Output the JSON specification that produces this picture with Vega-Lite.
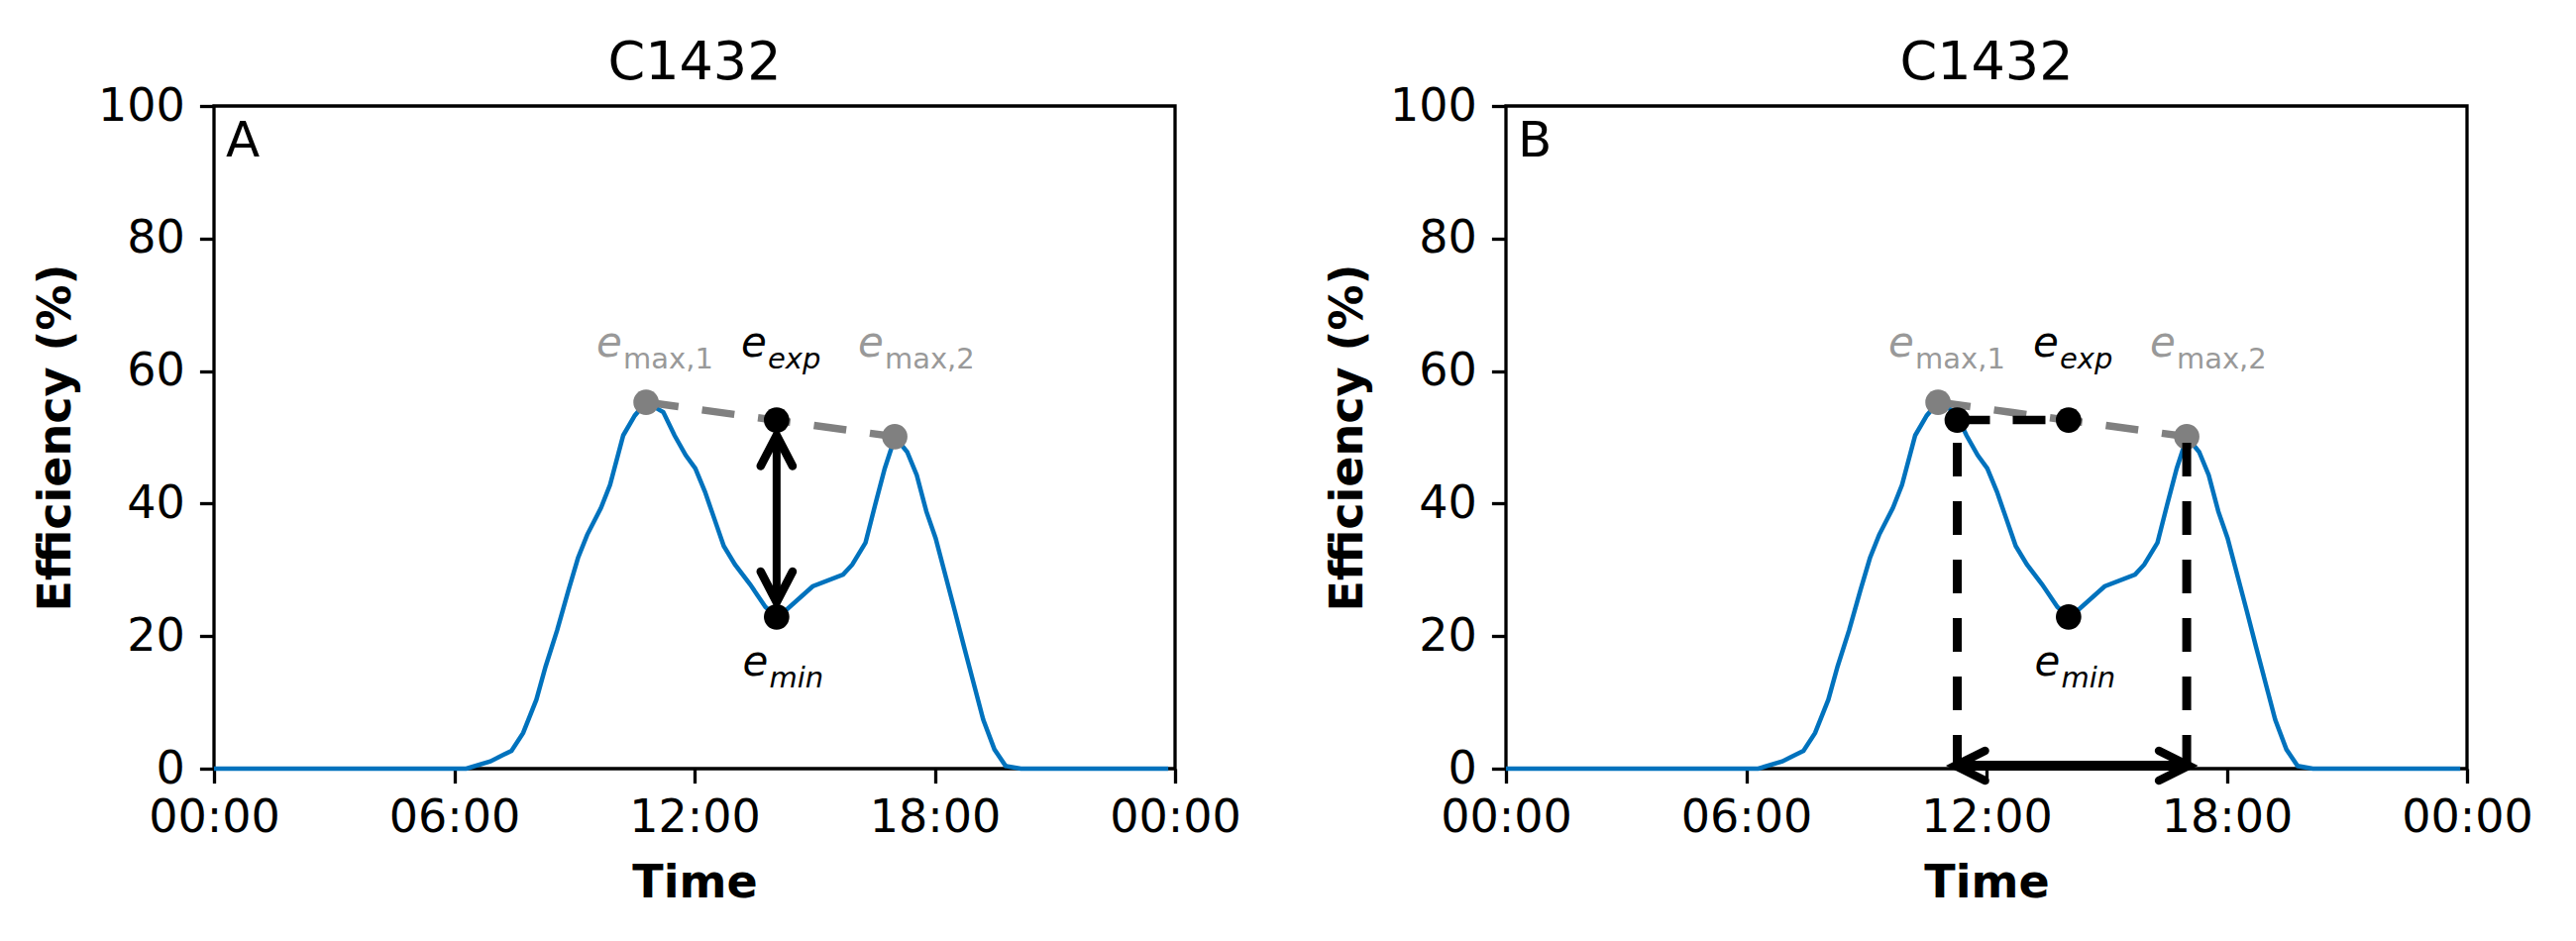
{
  "$schema": "https://vega.github.io/schema/vega-lite/v6.json",
  "background": "white",
  "padding": {"left": 31, "top": 35, "right": 10, "bottom": 10},
  "spacing": 334,
  "bounds": "flush",
  "config": {
    "font": "DejaVu Sans",
    "view": {"stroke": "black", "strokeWidth": 3.3},
    "axis": {
      "domain": false, "grid": false, "ticks": true, "tickSize": 14.6, "tickWidth": 3.3, "tickColor": "black",
      "labelFont": "DejaVu Sans", "labelFontSize": 46, "labelColor": "black", "labelFlush": false, "labelOverlap": false,
      "titleFont": "DejaVu Sans", "titleFontSize": 46, "titleFontWeight": "bold", "titleColor": "black"
    },
    "axisX": {"labelPadding": 13, "titlePadding": 21},
    "axisY": {"labelPadding": 15, "titlePadding": 18},
    "title": {"font": "DejaVu Sans", "fontSize": 54, "fontWeight": "normal", "color": "black", "baseline": "alphabetic", "offset": -7, "frame": "group"}
  },
  "datasets": {
    "curve": [
      {"time": 0, "eff": 0}, {"time": 1, "eff": 0}, {"time": 2, "eff": 0}, {"time": 3, "eff": 0},
      {"time": 4, "eff": 0}, {"time": 5, "eff": 0}, {"time": 6, "eff": 0}, {"time": 6.3, "eff": 0},
      {"time": 6.9, "eff": 1.1}, {"time": 7.43, "eff": 2.7}, {"time": 7.72, "eff": 5.4}, {"time": 8.05, "eff": 10.4},
      {"time": 8.28, "eff": 15.4}, {"time": 8.57, "eff": 20.9}, {"time": 8.85, "eff": 26.9}, {"time": 9.09, "eff": 31.8},
      {"time": 9.32, "eff": 35.3}, {"time": 9.66, "eff": 39.3}, {"time": 9.89, "eff": 42.8}, {"time": 10.22, "eff": 50.3},
      {"time": 10.51, "eff": 53.3}, {"time": 10.79, "eff": 55.3}, {"time": 11.22, "eff": 53.8}, {"time": 11.5, "eff": 50.3},
      {"time": 11.78, "eff": 47.3}, {"time": 12.02, "eff": 45.3}, {"time": 12.26, "eff": 41.8}, {"time": 12.49, "eff": 37.8},
      {"time": 12.73, "eff": 33.6}, {"time": 13.01, "eff": 30.8}, {"time": 13.39, "eff": 27.8}, {"time": 13.77, "eff": 24.4},
      {"time": 14.05, "eff": 22.9}, {"time": 14.3, "eff": 24.0}, {"time": 14.95, "eff": 27.5}, {"time": 15.71, "eff": 29.3},
      {"time": 15.94, "eff": 30.8}, {"time": 16.27, "eff": 34.1}, {"time": 16.51, "eff": 39.8}, {"time": 16.75, "eff": 45.3},
      {"time": 16.94, "eff": 48.8}, {"time": 17.0, "eff": 50.1}, {"time": 17.31, "eff": 47.8}, {"time": 17.55, "eff": 44.3},
      {"time": 17.79, "eff": 38.8}, {"time": 18.02, "eff": 34.8}, {"time": 18.26, "eff": 29.3}, {"time": 18.5, "eff": 23.8},
      {"time": 18.73, "eff": 18.4}, {"time": 18.97, "eff": 12.9}, {"time": 19.21, "eff": 7.4}, {"time": 19.49, "eff": 2.9},
      {"time": 19.77, "eff": 0.4}, {"time": 20.15, "eff": 0}, {"time": 21, "eff": 0}, {"time": 22, "eff": 0},
      {"time": 23, "eff": 0}, {"time": 23.83, "eff": 0}
    ],
    "peaks": [
      {"point": "e_max,1", "time": 10.79, "eff": 55.3},
      {"point": "e_max,2", "time": 17.0, "eff": 50.1}
    ],
    "key": [
      {"point": "e_exp", "time": 14.05, "eff": 52.6},
      {"point": "e_min", "time": 14.05, "eff": 22.9}
    ],
    "arrowA": [{"time": 14.05, "from": 25.1, "to": 50.3}],
    "crossB": [{"time": 11.27, "eff": 52.6}],
    "expLineB": [{"from": 11.27, "to": 14.05, "eff": 52.6}],
    "dropB": [{"time": 11.27, "bottom": 0, "top": 52.6}, {"time": 17.0, "bottom": 0, "top": 50.1}],
    "arrowB": [{"from": 11.22, "to": 17.05, "eff": 0.45}],
    "labels": [
      {"base": "e", "sub": "max,1", "kind": "max", "time": 9.55, "eff": 62.2},
      {"base": "e", "sub": "exp", "kind": "exp", "time": 13.16, "eff": 62.2},
      {"base": "e", "sub": "max,2", "kind": "max", "time": 16.08, "eff": 62.2},
      {"base": "e", "sub": "min", "kind": "min", "time": 13.2, "eff": 14.1}
    ],
    "letters": [
      {"panel": "A", "time": 0, "eff": 100},
      {"panel": "B", "time": 0, "eff": 100}
    ]
  },
  "hconcat": [
    {
      "width": 970, "height": 669,
      "title": {"text": "C1432"},
      "layer": [
        {
          "data": {"name": "curve"},
          "mark": {"type": "line", "color": "#0072bd", "strokeWidth": 4.5},
          "encoding": {
            "x": {"field": "time", "type": "quantitative", "scale": {"domain": [0, 24], "nice": false, "zero": false},
                  "axis": {"title": "Time", "values": [0, 6, 12, 18, 24], "labelExpr": "(datum.value % 24 < 10 ? '0' : '') + (datum.value % 24) + ':00'"}},
            "y": {"field": "eff", "type": "quantitative", "scale": {"domain": [0, 100], "nice": false},
                  "axis": {"title": "Efficiency (%)", "values": [0, 20, 40, 60, 80, 100]}}
          }
        },
        {
          "data": {"name": "peaks"},
          "mark": {"type": "line", "color": "#808080", "strokeWidth": 7.5, "strokeDash": [33, 24]},
          "encoding": {"x": {"field": "time", "type": "quantitative"}, "y": {"field": "eff", "type": "quantitative"}, "order": {"field": "time"}}
        },
        {
          "data": {"name": "peaks"},
          "mark": {"type": "point", "filled": true, "color": "#808080", "size": 660, "opacity": 1},
          "encoding": {"x": {"field": "time", "type": "quantitative"}, "y": {"field": "eff", "type": "quantitative"}}
        },
        {
          "data": {"name": "key"},
          "mark": {"type": "point", "filled": true, "color": "black", "size": 660, "opacity": 1},
          "encoding": {"x": {"field": "time", "type": "quantitative"}, "y": {"field": "eff", "type": "quantitative"}}
        },
        {
          "data": {"name": "arrowA"},
          "mark": {"type": "rule", "color": "black", "strokeWidth": 8},
          "encoding": {"x": {"field": "time", "type": "quantitative"}, "y": {"field": "from", "type": "quantitative"}, "y2": {"field": "to"}}
        },
        {
          "data": {"name": "arrowA"},
          "mark": {"type": "point", "shape": "M-0.52,1L0,0L0.52,1", "filled": false, "color": "black", "strokeWidth": 8.5, "size": 3844, "opacity": 1, "strokeCap": "round", "strokeJoin": "miter"},
          "encoding": {"x": {"field": "time", "type": "quantitative"}, "y": {"field": "to", "type": "quantitative"}}
        },
        {
          "data": {"name": "arrowA"},
          "mark": {"type": "point", "shape": "M-0.52,-1L0,0L0.52,-1", "filled": false, "color": "black", "strokeWidth": 8.5, "size": 3844, "opacity": 1, "strokeCap": "round", "strokeJoin": "miter"},
          "encoding": {"x": {"field": "time", "type": "quantitative"}, "y": {"field": "from", "type": "quantitative"}}
        },
        {
          "data": {"name": "labels"},
          "transform": [{"filter": "datum.kind == 'max'"}],
          "mark": {"type": "text", "font": "DejaVu Sans", "fontStyle": "italic", "fontSize": 42, "color": "#999999", "align": "left", "baseline": "alphabetic"},
          "encoding": {"x": {"field": "time", "type": "quantitative"}, "y": {"field": "eff", "type": "quantitative"}, "text": {"field": "base"}}
        },
        {
          "data": {"name": "labels"},
          "transform": [{"filter": "datum.kind == 'max'"}],
          "mark": {"type": "text", "font": "DejaVu Sans", "fontSize": 29, "color": "#999999", "align": "left", "baseline": "alphabetic", "dx": 27, "dy": 12},
          "encoding": {"x": {"field": "time", "type": "quantitative"}, "y": {"field": "eff", "type": "quantitative"}, "text": {"field": "sub"}}
        },
        {
          "data": {"name": "labels"},
          "transform": [{"filter": "datum.kind != 'max'"}],
          "mark": {"type": "text", "font": "DejaVu Sans", "fontStyle": "italic", "fontSize": 42, "color": "black", "align": "left", "baseline": "alphabetic"},
          "encoding": {"x": {"field": "time", "type": "quantitative"}, "y": {"field": "eff", "type": "quantitative"}, "text": {"field": "base"}}
        },
        {
          "data": {"name": "labels"},
          "transform": [{"filter": "datum.kind != 'max'"}],
          "mark": {"type": "text", "font": "DejaVu Sans", "fontStyle": "italic", "fontSize": 29, "color": "black", "align": "left", "baseline": "alphabetic", "dx": 27, "dy": 12},
          "encoding": {"x": {"field": "time", "type": "quantitative"}, "y": {"field": "eff", "type": "quantitative"}, "text": {"field": "sub"}}
        },
        {
          "data": {"name": "letters"},
          "transform": [{"filter": "datum.panel == 'A'"}],
          "mark": {"type": "text", "font": "DejaVu Sans", "fontSize": 50, "color": "black", "align": "left", "baseline": "alphabetic", "dx": 12, "dy": 51},
          "encoding": {"x": {"field": "time", "type": "quantitative"}, "y": {"field": "eff", "type": "quantitative"}, "text": {"field": "panel"}}
        }
      ]
    },
    {
      "width": 970, "height": 669,
      "title": {"text": "C1432"},
      "layer": [
        {
          "data": {"name": "curve"},
          "mark": {"type": "line", "color": "#0072bd", "strokeWidth": 4.5},
          "encoding": {
            "x": {"field": "time", "type": "quantitative", "scale": {"domain": [0, 24], "nice": false, "zero": false},
                  "axis": {"title": "Time", "values": [0, 6, 12, 18, 24], "labelExpr": "(datum.value % 24 < 10 ? '0' : '') + (datum.value % 24) + ':00'"}},
            "y": {"field": "eff", "type": "quantitative", "scale": {"domain": [0, 100], "nice": false},
                  "axis": {"title": "Efficiency (%)", "values": [0, 20, 40, 60, 80, 100]}}
          }
        },
        {
          "data": {"name": "peaks"},
          "mark": {"type": "line", "color": "#808080", "strokeWidth": 7.5, "strokeDash": [33, 24]},
          "encoding": {"x": {"field": "time", "type": "quantitative"}, "y": {"field": "eff", "type": "quantitative"}, "order": {"field": "time"}}
        },
        {
          "data": {"name": "peaks"},
          "mark": {"type": "point", "filled": true, "color": "#808080", "size": 660, "opacity": 1},
          "encoding": {"x": {"field": "time", "type": "quantitative"}, "y": {"field": "eff", "type": "quantitative"}}
        },
        {
          "data": {"name": "expLineB"},
          "mark": {"type": "rule", "color": "black", "strokeWidth": 8.5, "strokeDash": [33, 23]},
          "encoding": {"x": {"field": "from", "type": "quantitative"}, "x2": {"field": "to"}, "y": {"field": "eff", "type": "quantitative"}}
        },
        {
          "data": {"name": "dropB"},
          "mark": {"type": "rule", "color": "black", "strokeWidth": 9, "strokeDash": [34, 25]},
          "encoding": {"x": {"field": "time", "type": "quantitative"}, "y": {"field": "bottom", "type": "quantitative"}, "y2": {"field": "top"}}
        },
        {
          "data": {"name": "key"},
          "mark": {"type": "point", "filled": true, "color": "black", "size": 660, "opacity": 1},
          "encoding": {"x": {"field": "time", "type": "quantitative"}, "y": {"field": "eff", "type": "quantitative"}}
        },
        {
          "data": {"name": "crossB"},
          "mark": {"type": "point", "filled": true, "color": "black", "size": 660, "opacity": 1},
          "encoding": {"x": {"field": "time", "type": "quantitative"}, "y": {"field": "eff", "type": "quantitative"}}
        },
        {
          "data": {"name": "arrowB"},
          "mark": {"type": "rule", "color": "black", "strokeWidth": 10},
          "encoding": {"x": {"field": "from", "type": "quantitative"}, "x2": {"field": "to"}, "y": {"field": "eff", "type": "quantitative"}}
        },
        {
          "data": {"name": "arrowB"},
          "mark": {"type": "point", "shape": "M1,-0.5L0,0L1,0.5", "filled": false, "color": "black", "strokeWidth": 8.5, "size": 3600, "opacity": 1, "strokeCap": "round", "strokeJoin": "miter"},
          "encoding": {"x": {"field": "from", "type": "quantitative"}, "y": {"field": "eff", "type": "quantitative"}}
        },
        {
          "data": {"name": "arrowB"},
          "mark": {"type": "point", "shape": "M-1,-0.5L0,0L-1,0.5", "filled": false, "color": "black", "strokeWidth": 8.5, "size": 3600, "opacity": 1, "strokeCap": "round", "strokeJoin": "miter"},
          "encoding": {"x": {"field": "to", "type": "quantitative"}, "y": {"field": "eff", "type": "quantitative"}}
        },
        {
          "data": {"name": "labels"},
          "transform": [{"filter": "datum.kind == 'max'"}],
          "mark": {"type": "text", "font": "DejaVu Sans", "fontStyle": "italic", "fontSize": 42, "color": "#999999", "align": "left", "baseline": "alphabetic"},
          "encoding": {"x": {"field": "time", "type": "quantitative"}, "y": {"field": "eff", "type": "quantitative"}, "text": {"field": "base"}}
        },
        {
          "data": {"name": "labels"},
          "transform": [{"filter": "datum.kind == 'max'"}],
          "mark": {"type": "text", "font": "DejaVu Sans", "fontSize": 29, "color": "#999999", "align": "left", "baseline": "alphabetic", "dx": 27, "dy": 12},
          "encoding": {"x": {"field": "time", "type": "quantitative"}, "y": {"field": "eff", "type": "quantitative"}, "text": {"field": "sub"}}
        },
        {
          "data": {"name": "labels"},
          "transform": [{"filter": "datum.kind != 'max'"}],
          "mark": {"type": "text", "font": "DejaVu Sans", "fontStyle": "italic", "fontSize": 42, "color": "black", "align": "left", "baseline": "alphabetic"},
          "encoding": {"x": {"field": "time", "type": "quantitative"}, "y": {"field": "eff", "type": "quantitative"}, "text": {"field": "base"}}
        },
        {
          "data": {"name": "labels"},
          "transform": [{"filter": "datum.kind != 'max'"}],
          "mark": {"type": "text", "font": "DejaVu Sans", "fontStyle": "italic", "fontSize": 29, "color": "black", "align": "left", "baseline": "alphabetic", "dx": 27, "dy": 12},
          "encoding": {"x": {"field": "time", "type": "quantitative"}, "y": {"field": "eff", "type": "quantitative"}, "text": {"field": "sub"}}
        },
        {
          "data": {"name": "letters"},
          "transform": [{"filter": "datum.panel == 'B'"}],
          "mark": {"type": "text", "font": "DejaVu Sans", "fontSize": 50, "color": "black", "align": "left", "baseline": "alphabetic", "dx": 12, "dy": 51},
          "encoding": {"x": {"field": "time", "type": "quantitative"}, "y": {"field": "eff", "type": "quantitative"}, "text": {"field": "panel"}}
        }
      ]
    }
  ]
}
